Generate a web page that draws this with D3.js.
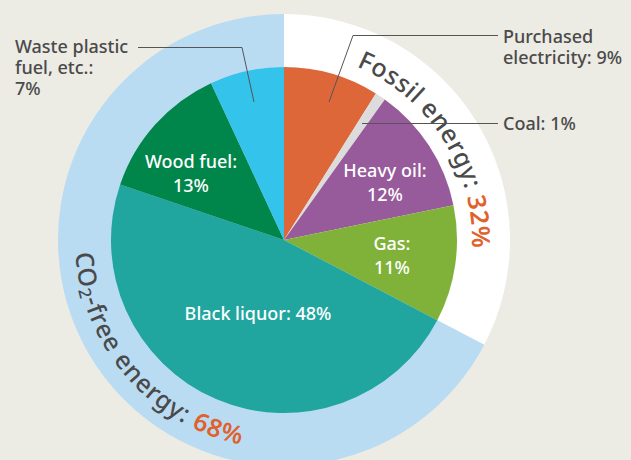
<!DOCTYPE html>
<html>
<head>
<meta charset="utf-8">
<script src="https://cdn.jsdelivr.net/npm/d3@7"></script>
<style>
  html, body { margin: 0; padding: 0; background: #ecebe4; }
  svg { display: block; font-family: "Noto Sans", "Open Sans", sans-serif; font-weight: 500; }
</style>
</head>
<body>
<div id="chart"></div>
<script>
// energy sources, clockwise from 12 o'clock
var sources = ["Purchased electricity", "Coal", "Heavy oil", "Gas", "Black liquor", "Wood fuel", "Waste plastic fuel, etc."];
var shares = [9, 1, 12, 11, 48, 13, 7];
var sliceColors = ["#de6739", "#dcdcdc", "#975a9a", "#80b23a", "#21a69f", "#00864b", "#34c3ea"];

// outer ring groups
var groups = ["Fossil energy", "CO2-free energy"];
var groupShares = [33, 68];
var groupLabels = ["32%", "68%"];
var ringColors = ["#ffffff", "#badcf3"];

// chart dimensions
var width = 631, height = 460;
var cx = 284, cy = 240;
var rInner = 173, rOuter = 226;
var textColor = "#4a4a4a", accent = "#e0612c";

var svg = d3.select("#chart").append("svg")
  .attr("width", width)
  .attr("height", height);

var g = svg.append("g").attr("transform", "translate(" + cx + "," + cy + ")");

var pie = d3.pie().sort(null).value(function(d) { return d; });

// outer ring
var ringArcs = pie(groupShares);
g.selectAll("path.ring")
  .data(ringArcs)
  .enter()
  .append("path")
  .attr("class", "ring")
  .attr("d", d3.arc().innerRadius(0).outerRadius(rOuter))
  .attr("fill", function(d, i) { return ringColors[i]; });

// inner pie
var arcs = pie(shares);
var arc = d3.arc().innerRadius(0).outerRadius(rInner);
g.selectAll("path.slice")
  .data(arcs)
  .enter()
  .append("path")
  .attr("class", "slice")
  .attr("d", arc)
  .attr("fill", function(d, i) { return sliceColors[i]; });

// labels inside slices (white)
var inside = [
  {i: 2, lines: ["Heavy oil:", "12%"], x: 101, y: -63},
  {i: 3, lines: ["Gas:", "11%"], x: 108, y: 10},
  {i: 4, lines: ["Black liquor: 48%"], x: -26, y: 80},
  {i: 5, lines: ["Wood fuel:", "13%"], x: -93, y: -72}
];
inside.forEach(function(l) {
  var t = g.append("text")
    .attr("text-anchor", "middle")
    .attr("fill", "#ffffff")
    .style("font-size", "18px");
  l.lines.forEach(function(s, k) {
    t.append("tspan").attr("x", l.x).attr("y", l.y + k * 24).text(s);
  });
});

// outside labels with leader lines
function outside(lines, x, y, anchor) {
  var t = svg.append("text")
    .attr("text-anchor", anchor)
    .attr("fill", textColor)
    .style("font-size", "18px");
  lines.forEach(function(s, k) {
    t.append("tspan").attr("x", x).attr("y", y + k * 21).text(s);
  });
}
function leader(points) {
  svg.append("path")
    .attr("d", d3.line()(points))
    .attr("fill", "none")
    .attr("stroke", "#555555")
    .attr("stroke-width", 1);
}

outside(["Waste plastic", "fuel, etc.:", "7%"], 15, 53, "start");
leader([[138, 47.5], [242, 47.5], [254, 102]]);

outside(["Purchased", "electricity: 9%"], 503, 43, "start");
leader([[498, 35.5], [353, 35.5], [329, 102]]);

outside(["Coal: 1%"], 503, 130, "start");
leader([[498, 123.5], [362, 123.5]]);

// curved ring labels
function ringPath(id, r, a0, a1, ccw) {
  var p = d3.path();
  p.moveTo(r * Math.sin(a0), -r * Math.cos(a0));
  p.arc(0, 0, r, a0 - Math.PI / 2, a1 - Math.PI / 2, ccw);
  g.append("path").attr("id", id).attr("d", p.toString()).attr("fill", "none");
}

// fossil: clockwise, letters facing outward
ringPath("fossilPath", 188, ringArcs[0].startAngle, ringArcs[0].endAngle, false);
var ft = g.append("text").style("font-size", "25px").style("letter-spacing", "0.5px");
var ftp = ft.append("textPath")
  .attr("href", "#fossilPath")
  .attr("startOffset", "49%")
  .attr("text-anchor", "middle");
ftp.append("tspan").attr("fill", textColor).text(groups[0] + ": ");
ftp.append("tspan").attr("fill", accent).style("font-weight", 600).text(groupLabels[0]);

// CO2-free: anticlockwise, letters facing the centre
ringPath("freePath", 209, ringArcs[1].endAngle, ringArcs[1].startAngle, true);
var ct = g.append("text").style("font-size", "25px").style("letter-spacing", "0.9px");
var ctp = ct.append("textPath")
  .attr("href", "#freePath")
  .attr("startOffset", "54%")
  .attr("text-anchor", "middle");
ctp.append("tspan").attr("fill", textColor).text("CO");
ctp.append("tspan").attr("fill", textColor).style("font-size", "17px").attr("dy", 3).text("2");
ctp.append("tspan").attr("fill", textColor).attr("dy", -3).text("-free energy: ");
ctp.append("tspan").attr("fill", accent).style("font-weight", 600).text(groupLabels[1]);
</script>
</body>
</html>
